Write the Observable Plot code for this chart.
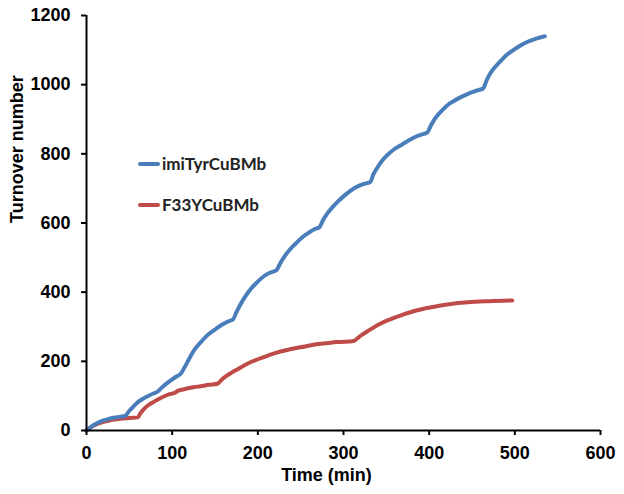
<!DOCTYPE html>
<html>
<head>
<meta charset="utf-8">
<script src="https://cdn.jsdelivr.net/npm/d3@7"></script>
<script src="https://cdn.jsdelivr.net/npm/@observablehq/plot@0.6"></script>
<style>
  html, body { margin: 0; padding: 0; background: #fff; }
  #wrap { position: relative; width: 624px; height: 494px; }
  .leg-line { position: absolute; width: 22px; height: 4px; border-radius: 2px; }
  .leg-text { position: absolute; font-family: Lato, "Open Sans", sans-serif; font-weight: bold; font-size: 17px; color: #222; line-height: 20px; white-space: nowrap; }
</style>
</head>
<body>
<div id="wrap"></div>
<script>
// Series names
const seriesNames = ["imiTyrCuBMb", "F33YCuBMb"];
const seriesColors = ["#4A7EBB", "#BE4B48"];

// imiTyrCuBMb (blue)
const blueTime = [0, 5, 10, 15, 20, 25, 30, 35, 40, 45,
  50, 55, 60, 66, 72, 78, 82,
  88, 94, 100, 105, 110,
  115, 120, 125, 133, 141, 150, 158, 165, 171,
  175, 180, 186, 192, 199, 207, 214, 222,
  226, 231, 237, 244, 252, 260, 266, 272,
  276, 281, 287, 293, 300, 308, 315, 322, 331,
  335, 340, 345, 351, 358, 367, 375, 383, 390, 398,
  402, 406, 410, 416, 421, 429, 437, 444, 451, 457, 463,
  467, 472, 478, 484, 491, 499, 507, 515, 525, 535];
const blueTurnover = [0, 10, 18, 24, 29, 33, 36, 38, 40, 42,
  57, 70, 82, 92, 100, 107, 111,
  124, 137, 148, 156, 164,
  185, 208, 230, 254, 275, 292, 306, 315, 321,
  342, 366, 390, 410, 428, 446, 456, 464,
  483, 503, 522, 540, 559, 573, 582, 588,
  608, 627, 645, 661, 677, 693, 704, 712, 718,
  741, 762, 780, 796, 811, 825, 837, 848, 855, 862,
  882, 899, 912, 928, 940, 953, 964, 972, 979, 984, 989,
  1012, 1035, 1054, 1070, 1087, 1101, 1114, 1124, 1133, 1140];

// F33YCuBMb (red)
const redTime = [0, 5, 10, 15, 20, 25, 30, 40, 50, 60,
  63, 67, 72, 78, 85, 91, 97, 104,
  106, 115, 125, 133, 143, 153,
  157, 163, 170, 177, 184, 192, 200, 211, 222, 233, 242, 255, 265, 274, 285, 295, 312,
  316, 320, 325, 332, 340, 348, 356, 367, 378, 390, 406, 425, 445, 470, 497];
const redTurnover = [0, 9, 16, 21, 25, 28, 31, 34, 36, 38,
  50, 62, 73, 82, 92, 99, 105, 110,
  114, 120, 125, 128, 132, 135,
  145, 157, 168, 178, 188, 198, 206, 216, 225, 232, 237, 243, 248, 251, 254, 256, 259,
  266, 274, 282, 293, 305, 315, 323, 333, 342, 350, 358, 366, 371, 374, 376];

// Axis ticks and titles
const xTicks = [0, 100, 200, 300, 400, 500, 600];
const yTicks = [0, 200, 400, 600, 800, 1000, 1200];
const xTitle = "Time (min)";
const yTitle = "Turnover number";

const blueData = blueTime.map((t, i) => ({t, v: blueTurnover[i]}));
const redData = redTime.map((t, i) => ({t, v: redTurnover[i]}));

const font = "'Liberation Sans', Arial, sans-serif";

const chart = Plot.plot({
  width: 624,
  height: 494,
  marginLeft: 86,
  marginRight: 24,
  marginTop: 15,
  marginBottom: 64,
  style: {fontFamily: font, fontSize: "18px", fontWeight: "bold", color: "#000", background: "#fff", overflow: "visible"},
  x: {domain: [0, 600]},
  y: {domain: [0, 1200]},
  marks: [
    Plot.line(redData, {x: "t", y: "v", stroke: seriesColors[1], strokeWidth: 4, curve: "monotone-x"}),
    Plot.line(blueData, {x: "t", y: "v", stroke: seriesColors[0], strokeWidth: 4, curve: "monotone-x"}),
    Plot.ruleY([0], {stroke: "#000", strokeWidth: 2}),
    Plot.ruleX([0], {stroke: "#000", strokeWidth: 2}),
    Plot.axisX({ticks: xTicks, tickSize: 5, tickPadding: 11, strokeWidth: 2, label: null, tickFormat: d => String(d)}),
    Plot.axisY({ticks: yTicks, tickSize: 5, tickPadding: 11, strokeWidth: 2, label: null, tickFormat: d => String(d)}),
    Plot.text([xTitle], {text: d => d, frameAnchor: "bottom", dy: 45, dx: -17, fontSize: 18, fontWeight: "bold", lineAnchor: "middle"}),
    Plot.text([yTitle], {text: d => d, frameAnchor: "left", dx: -69, rotate: -90, fontSize: 18, fontWeight: "bold", lineAnchor: "middle"})
  ]
});

const wrap = document.getElementById("wrap");
wrap.appendChild(chart);

// Legend overlay (HTML)
const legendRows = [{top: 164}, {top: 205}];
seriesNames.forEach((name, i) => {
  const line = document.createElement("div");
  line.className = "leg-line";
  line.style.left = "138px";
  line.style.top = (legendRows[i].top - 2) + "px";
  line.style.background = seriesColors[i];
  wrap.appendChild(line);
  const txt = document.createElement("div");
  txt.className = "leg-text";
  txt.textContent = name;
  txt.style.left = "162px";
  txt.style.top = (legendRows[i].top - 10) + "px";
  wrap.appendChild(txt);
});
</script>
</body>
</html>
